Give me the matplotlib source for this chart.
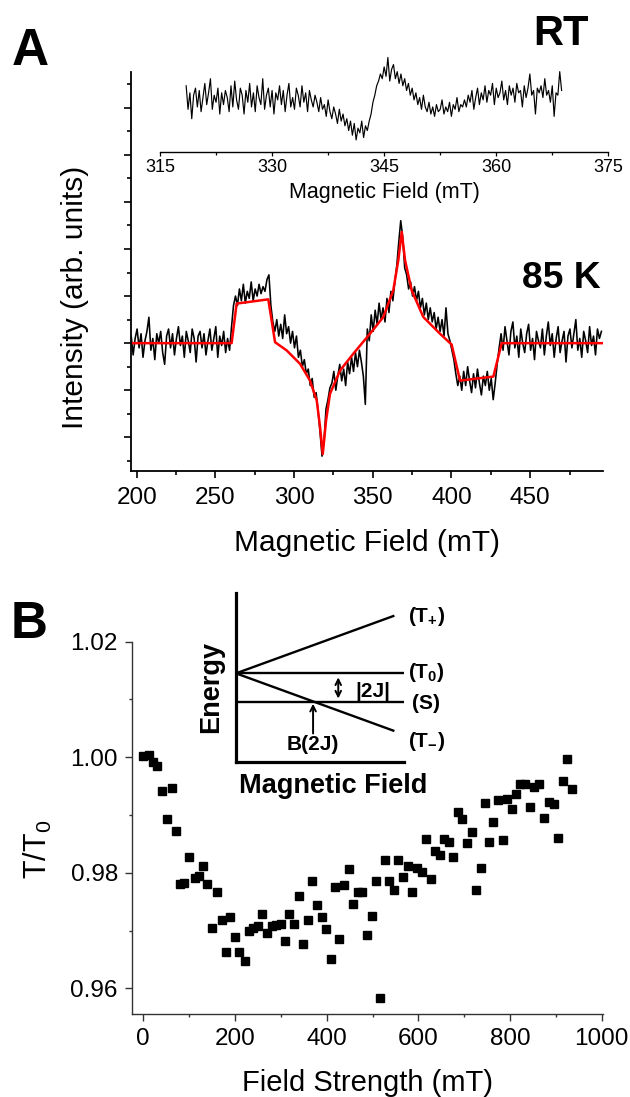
import numpy as np
import matplotlib
matplotlib.use('Agg')
import matplotlib.pyplot as plt
from matplotlib.ticker import MultipleLocator

plt.rcParams['font.family'] = ['Liberation Sans', 'DejaVu Sans']
plt.rcParams['mathtext.fontset'] = 'custom'
plt.rcParams['mathtext.rm'] = 'Liberation Sans'
plt.rcParams['mathtext.bf'] = 'Liberation Sans:bold'

# ---- panel A, 85 K spectrum (field in mT, intensity in arb. units) ----
FIELD_85K_START, FIELD_85K_STEP = 196.5, 1.25
SIGNAL_85K = [
    0.3, -0.5, 0.2, 0.6, -0.2, 0.4, -0.6, 0.1, 0.5, 1.1,
    -0.3, 0.2, -0.7, 0.4, 0.0, 0.5, -0.4, -0.9, 0.3, 0.6,
    -0.2, 0.4, -0.5, 0.2, 0.7, -0.1, 0.3, -0.6, 0.5, 0.1,
    -0.4, 0.6, 0.2, -0.8, 0.3, 0.5, -0.2, 0.4, -0.5, 0.1,
    0.6, -0.3, 0.2, 0.7, -0.6, 0.3, -0.1, 0.5, -0.4, 0.2,
    -0.3,
    0.7, 1.6,
    2.0, 1.6, 2.3, 1.8, 2.5, 1.7, 2.2, 1.9, 2.6, 1.8, 2.3, 2.0, 2.5, 2.1, 2.4, 2.2, 2.7,
    2.9,
    1.6, 0.9,
    0.5, 1.0, 0.3, 0.8, 0.2, 1.2, 0.4, 0.7, 0.0, 0.5,
    -0.2, 0.3, -0.6, -0.3, -1.0, -0.7, -1.3, -1.1,
    -1.8, -1.5, -2.3, -2.1, -2.9,
    -3.8, -4.8,
    -4.2,
    -2.8, -2.4, -1.9,
    -1.7, -1.2, -2.0, -1.4, -0.9, -1.6, -1.1, -1.8, -0.8, -1.3, -0.6, -1.2, -0.4, -1.0,
    -0.3, -0.8, -1.4, -2.6,
    0.6, 0.1, 1.2, 0.5, 1.4, 0.8, 1.7, 1.0, 1.5, 0.9, 1.9, 1.3, 2.2, 1.8,
    2.6, 3.3,
    4.3,
    5.2,
    4.5,
    3.2,
    2.9, 2.3, 2.6, 2.0, 2.4, 1.8,
    2.2, 1.5, 1.9, 1.2, 1.7, 1.0, 1.5, 0.9, 1.3, 0.6, 1.1, 0.5, 1.0, 0.3, 1.5, 0.4,
    0.1, -0.3, -0.7,
    -1.3, -1.8,
    -1.4, -2.0, -1.2, -1.8, -1.0, -1.6, -2.1, -1.3, -1.9, -1.1, -1.7, -2.2, -1.4, -1.8,
    -1.2, -2.0, -1.5, -2.4,
    -1.7, -0.9, -0.2,
    0.4, -0.3, 0.7, 0.1, -0.5, 0.5, 0.9, -0.2, 0.3, -0.6,
    0.6, 0.0, -0.4, 0.4, 0.8, -0.3, 0.2, -0.7, 0.5, 0.1,
    -0.2, 0.6, -0.5, 0.3, 0.9, -0.1, 0.4, -0.6, 0.2, 0.7,
    -0.4, 0.1, 0.5, -0.8, 0.3, 0.6, -0.2, 0.4, 1.0, -0.3,
    0.2, -0.6, 0.5, 0.1, -0.4, 0.7, -0.1, 0.3, -0.5, 0.6,
    0.2, 0.5,
]

FIT_FIELD = [196.2, 260.3, 263.5, 283.6, 287.9, 295.3, 303.8, 310.1, 314.4, 316.5,
             318.2, 320.3, 322.8, 329.2, 337.6, 348.2, 356.7, 363.0, 366.2, 368.4,
             370.5, 374.7, 382.1, 392.7, 400.1, 405.4, 426.6, 431.9, 496.0]
FIT_SIGNAL = [0.0, 0.0, 1.68, 1.86, 0.04, -0.31, -0.88, -1.59, -2.44, -3.57,
              -4.71, -3.29, -2.15, -1.16, -0.45, 0.40, 1.11, 2.24, 3.52, 4.72,
              3.52, 2.24, 1.11, 0.40, -0.06, -1.59, -1.42, 0.0, 0.0]

# ---- panel A inset, room temperature spectrum ----
FIELD_RT_START, FIELD_RT_STEP = 318.5, 0.25
SIGNAL_RT = [
    0.6, -0.4, 0.3, -0.8, 0.2, 0.5, -0.3, 0.4, -0.5, 0.1,
    0.7, -0.2, 0.3, 0.9, -0.4, 0.2, -0.1, 0.5, -0.6, 0.3,
    -0.2, 0.4, 0.1, -0.5, 0.6, -0.3, 0.8, 0.0, -0.4, 0.5,
    0.2, -0.6, 0.4, -0.1, 0.7, -0.3, 0.3, -0.5, 0.6, 0.1,
    -0.2, 0.9, -0.4, 0.2, 0.5, -0.3, 0.4, -0.6, 0.3, 0.0,
    0.6, -0.2, 0.4, -0.5, 0.2, 0.7, -0.3, 0.1, -0.4, 0.5,
    0.2, -0.3, 0.6, -0.1, 0.3, -0.5, 0.4, 0.0, -0.3, 0.2,
    -0.1, -0.5, 0.1, -0.4, -0.2, -0.7, 0.0, -0.5, -0.8, -0.3, -0.6, -1.0, -0.4, -0.9,
    -0.6, -1.1,
    -0.8, -1.3, -0.9, -1.5, -1.0, -1.7, -1.2, -1.4, -0.9, -1.6, -1.1, -1.3,
    -0.9, -0.6, -0.1, 0.2, 0.6, 0.8, 1.1,
    0.9, 1.4, 1.0, 1.8, 0.8, 1.3, 1.5, 0.9, 1.2, 0.7,
    1.1, 0.6, 0.9, 0.4, 0.7, 0.2, 0.5, 0.0, 0.3, -0.2, 0.1, -0.4, 0.2, -0.3,
    -0.5, -0.1, -0.6, -0.3, -0.7, -0.2, -0.5, -0.4, 0.0, -0.6, -0.3, -0.5, -0.1, -0.7,
    -0.2, -0.4, 0.1, -0.5, -0.2, -0.3, 0.0,
    -0.3, 0.2, -0.1, 0.4, -0.4, 0.1, 0.5, -0.2, 0.3, 0.0,
    0.6, -0.1, 0.4, 0.2, 0.7, -0.2, 0.5, 0.1, 0.3, 0.8,
    0.0, 0.4, -0.2, 0.6, 0.2, 0.5, -0.1, 0.7, 0.3, 0.4,
    -0.3, 0.6, 0.1, 0.5, 1.1, 0.2, 0.4, -0.6, 0.5, 0.3,
    0.6, 0.1, 0.9, 0.2, 0.4, -0.1, 0.6, -0.7, 0.3, 0.2,
    1.2, 0.4,
]
RT_OFFSET = 10.33      # vertical stacking of the RT trace
RT_AXIS_LEVEL = 8.13   # height of the inset field axis

# ---- panel B, T/T0 vs field strength ----
B_FIELD = [0, 13, 22, 30.5, 40.8, 51, 62, 71.3, 80, 89.5,
           99.7, 112.8, 121.5, 131, 139.7, 149, 161.5, 171, 180.5, 189,
           200, 208.8, 222, 230, 240, 249.6, 259, 269, 280, 289.5,
           299.8, 309, 318.6, 329.5, 340.4, 349, 359.4, 368.8, 378.3, 389.2,
           398.6, 408.9, 418.3, 427.7, 438.6, 448.8, 458.3, 467.8, 477.9, 487.4,
           498.4, 507.7, 516.4, 527.3, 536.7, 547, 556.4, 567.3, 576.9, 587,
           596.5, 607.5, 616.9, 627.1, 636.5, 647.4, 656.2, 667.7, 676.5, 686,
           696.1, 705.7, 716.6, 726, 736.2, 744.9, 755, 763.7, 774.6, 785.5,
           794.2, 803.9, 813.2, 822, 832.9, 843.8, 853.2, 864.1, 874.3, 884.6,
           896.2, 904.2, 915.1, 923.8, 936]
B_RATIO = [1.0002, 1.0004, 0.9992, 0.9985, 0.9942, 0.9893, 0.9947, 0.9873, 0.9781, 0.9783,
           0.9828, 0.9791, 0.9795, 0.9812, 0.9781, 0.9705, 0.9767, 0.9719, 0.9663, 0.9724,
           0.9688, 0.9663, 0.9648, 0.9700, 0.9704, 0.9708, 0.9729, 0.9696, 0.9707, 0.9710,
           0.9711, 0.9682, 0.9729, 0.9711, 0.9759, 0.9677, 0.9719, 0.9785, 0.9744, 0.9724,
           0.9703, 0.9650, 0.9776, 0.9686, 0.9779, 0.9806, 0.9746, 0.9767, 0.9767, 0.9693,
           0.9726, 0.9786, 0.9583, 0.9822, 0.9786, 0.9770, 0.9822, 0.9792, 0.9812, 0.9766,
           0.9808, 0.9802, 0.9858, 0.9790, 0.9837, 0.9830, 0.9858, 0.9854, 0.9828, 0.9906,
           0.9893, 0.9852, 0.9871, 0.9771, 0.9809, 0.9920, 0.9854, 0.9888, 0.9926, 0.9856,
           0.9927, 0.9910, 0.9936, 0.9953, 0.9953, 0.9914, 0.9949, 0.9953, 0.9895, 0.9923,
           0.9919, 0.9860, 0.9959, 0.9997, 0.9945]

# ---- panel B inset, level scheme (field and energy in schematic units) ----
SCHEME_FIELD = [0.0, 1.0]
LEVEL_T_PLUS = [0.0, 1.0]
LEVEL_T_ZERO = [0.0, 0.0]
LEVEL_S = [-0.5, -0.5]
LEVEL_T_MINUS = [0.0, -1.0]
HORIZONTAL_END = 1.064
LEVEL_LABELS = ['(T$_{\\mathbf{+}}$)', '(T$_{\\mathbf{0}}$)', '(S)', '(T$_{\\mathbf{-}}$)']
LEVEL_LABEL_Y = [1.0, 0.01, -0.52, -1.19]


fig = plt.figure(figsize=(6.3, 10.97), dpi=100)

# panel A main
ax = fig.add_axes([0.2075, 0.5702, 0.749, 0.3645])
field_85k = FIELD_85K_START + FIELD_85K_STEP * np.arange(len(SIGNAL_85K))
ax.plot(field_85k, SIGNAL_85K, color='black', lw=1.15)
ax.plot(FIT_FIELD, FIT_SIGNAL, color='red', lw=1.8)
ax.set_xlim(196.2, 496)
ax.set_ylim(-5.45, 11.53)
ax.spines['top'].set_visible(False)
ax.spines['right'].set_visible(False)
ax.spines['left'].set_linewidth(1.3)
ax.spines['bottom'].set_linewidth(1.3)
ax.xaxis.set_major_locator(MultipleLocator(50))
ax.xaxis.set_minor_locator(MultipleLocator(25))
ax.yaxis.set_major_locator(MultipleLocator(2))
ax.yaxis.set_minor_locator(MultipleLocator(1))
ax.tick_params(which='major', direction='out', length=5, width=1.2, labelsize=17.5, pad=6)
ax.tick_params(which='minor', direction='out', length=2.7, width=1.2)
ax.tick_params(axis='y', labelleft=False)
ax.set_xlabel('Magnetic Field (mT)', fontsize=21.5)
ax.xaxis.set_label_coords(0.5, -0.144)
ax.set_ylabel('Intensity (arb. units)', fontsize=21.5)
ax.yaxis.set_label_coords(-0.0885, 0.4365)

# panel A inset, RT
ax_rt = fig.add_axes([160 / 630, 0.5702, 448.3 / 630, 0.3645])
ax_rt.patch.set_visible(False)
field_rt = FIELD_RT_START + FIELD_RT_STEP * np.arange(len(SIGNAL_RT))
ax_rt.plot(field_rt, np.array(SIGNAL_RT) + RT_OFFSET, color='black', lw=0.85, clip_on=False)
ax_rt.set_xlim(315, 375)
ax_rt.set_ylim(-5.45, 11.53)
for side in ['top', 'right', 'left']:
    ax_rt.spines[side].set_visible(False)
ax_rt.spines['bottom'].set_position(('data', RT_AXIS_LEVEL))
ax_rt.spines['bottom'].set_linewidth(1.0)
ax_rt.set_yticks([])
ax_rt.xaxis.set_major_locator(MultipleLocator(15))
ax_rt.xaxis.set_minor_locator(MultipleLocator(7.5))
ax_rt.tick_params(which='major', direction='out', length=3, width=0.9, labelsize=13, pad=2.5)
ax_rt.tick_params(which='minor', direction='out', length=1.8, width=0.9)
ax_rt.set_xlabel('Magnetic Field (mT)', fontsize=15.5, labelpad=4)

fig.text(0.0476, 0.9407, 'A', fontsize=37, fontweight='bold', ha='center', va='baseline')
fig.text(0.890, 0.959, 'RT', fontsize=30, fontweight='bold', ha='center', va='baseline')
fig.text(0.891, 0.7372, '85 K', fontsize=26.8, fontweight='bold', ha='center', va='baseline')

# panel B main
bx = fig.add_axes([0.209, 0.07566, 0.7476, 0.3394])
bx.plot(B_FIELD, B_RATIO, linestyle='none', marker='s', markersize=5.2, color='black')
bx.set_xlim(-25.3, 1002)
bx.set_ylim(0.95555, 1.02)
bx.spines['top'].set_visible(False)
bx.spines['right'].set_visible(False)
bx.spines['left'].set_linewidth(1.0)
bx.spines['bottom'].set_linewidth(1.0)
bx.spines['left'].set_color('#333333')
bx.spines['bottom'].set_color('#333333')
bx.xaxis.set_major_locator(MultipleLocator(200))
bx.xaxis.set_minor_locator(MultipleLocator(100))
bx.yaxis.set_major_locator(MultipleLocator(0.02))
bx.yaxis.set_minor_locator(MultipleLocator(0.01))
bx.yaxis.set_major_formatter(plt.FormatStrFormatter('%.2f'))
bx.tick_params(which='major', direction='out', length=5, width=1.0, labelsize=17.5, pad=5, color='#333333')
bx.tick_params(which='minor', direction='out', length=2.5, width=1.0, color='#333333')
bx.set_xlabel('Field Strength (mT)', fontsize=21)
bx.xaxis.set_label_coords(0.5, -0.147)
bx.set_ylabel('T/T$_{\\mathrm{0}}$', fontsize=22)
bx.yaxis.set_label_coords(-0.165, 0.443)

fig.text(0.046, 0.4184, 'B', fontsize=37, fontweight='bold', ha='center', va='baseline')

# panel B inset, energy levels
ex = fig.add_axes([236 / 630, 0.3051, 168.3 / 630, 0.154])
ex.patch.set_visible(False)
ex.plot(SCHEME_FIELD, LEVEL_T_PLUS, color='black', lw=1.7)
ex.plot([SCHEME_FIELD[0], HORIZONTAL_END], LEVEL_T_ZERO, color='black', lw=1.7)
ex.plot([SCHEME_FIELD[0], HORIZONTAL_END], LEVEL_S, color='black', lw=1.7)
ex.plot(SCHEME_FIELD, LEVEL_T_MINUS, color='black', lw=1.7)
ex.set_xlim(0, 1.07)
ex.set_ylim(-1.553, 1.396)
ex.spines['top'].set_visible(False)
ex.spines['right'].set_visible(False)
ex.spines['left'].set_linewidth(2.3)
ex.spines['bottom'].set_linewidth(2.3)
ex.set_xticks([])
ex.set_yticks([])
for label, y in zip(LEVEL_LABELS, LEVEL_LABEL_Y):
    ex.text(1.21, y, label, fontsize=15, fontweight='bold', ha='center', va='center', clip_on=False)
ex.annotate('', xy=(0.65, -0.07), xytext=(0.65, -0.44),
            arrowprops=dict(arrowstyle='<->', lw=1.4, color='black', shrinkA=0, shrinkB=0))
ex.text(0.868, -0.32, '|2J|', fontsize=15, fontweight='bold', ha='center', va='center')
ex.annotate('', xy=(0.49, -0.53), xytext=(0.49, -1.05),
            arrowprops=dict(arrowstyle='->', lw=1.4, color='black', shrinkA=0, shrinkB=0))
ex.text(0.486, -1.25, 'B(2J)', fontsize=15, fontweight='bold', ha='center', va='center')
ex.text(-0.15, 0.447, 'Energy', fontsize=19.5, fontweight='bold', rotation=90,
        ha='center', va='center', transform=ex.transAxes)
ex.text(0.579, -0.14, 'Magnetic Field', fontsize=19.5, fontweight='bold',
        ha='center', va='center', transform=ex.transAxes)

fig.savefig('out.png', dpi=100)
